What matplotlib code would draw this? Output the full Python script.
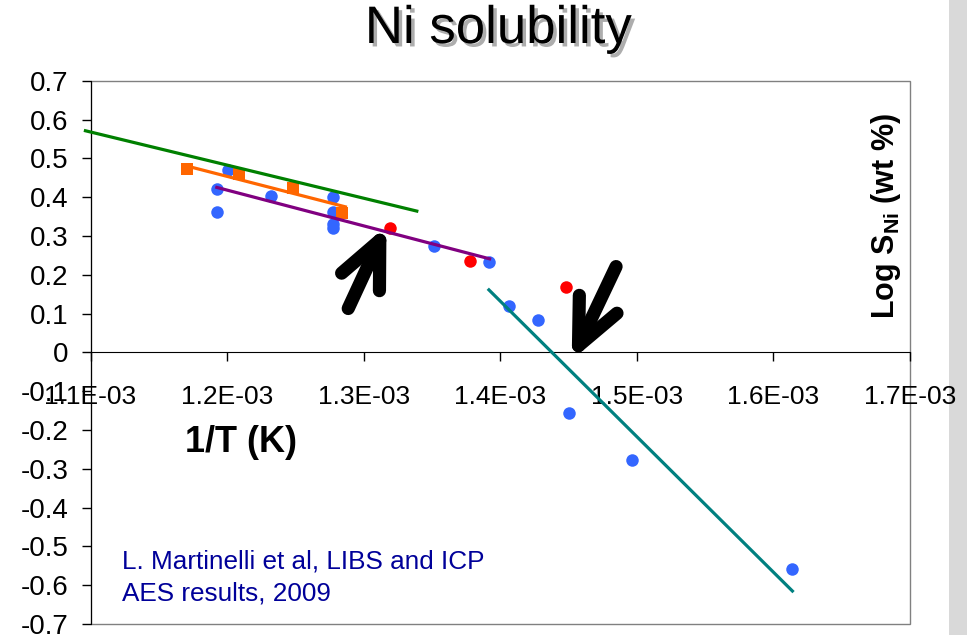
import numpy as np
import matplotlib
matplotlib.use('Agg')
import matplotlib.pyplot as plt
import matplotlib.patheffects as pe
from matplotlib.patches import Rectangle

plt.rcParams['font.family'] = ['Liberation Sans', 'DejaVu Sans']

# data (x in 1/K, y = log wt%)
blue_x = [1.2004e-3, 1.1925e-3, 1.1925e-3, 1.2320e-3, 1.2778e-3, 1.2778e-3, 1.2778e-3, 1.2778e-3,
          1.3515e-3, 1.3917e-3, 1.4063e-3, 1.4278e-3, 1.4500e-3, 1.4961e-3, 1.6139e-3]
blue_y = [0.470, 0.420, 0.362, 0.403, 0.401, 0.362, 0.332, 0.320,
          0.275, 0.234, 0.119, 0.083, -0.157, -0.278, -0.558]
red_x = [1.3195e-3, 1.3780e-3, 1.4479e-3]
red_y = [0.320, 0.235, 0.169]
orange_x = [1.1707e-3, 1.2084e-3, 1.2486e-3, 1.2840e-3]
orange_y = [0.472, 0.460, 0.424, 0.360]

# trend lines (end points)
green_line_x = [1.0963e-3, 1.3389e-3]
green_line_y = [0.571, 0.364]
orange_line_x = [1.1707e-3, 1.2866e-3]
orange_line_y = [0.480, 0.375]
purple_line_x = [1.1925e-3, 1.3922e-3]
purple_line_y = [0.425, 0.241]
teal_line_x = [1.3917e-3, 1.6139e-3]
teal_line_y = [0.161, -0.615]

# arrows: (tail, tip)
arrows = [((1.2887e-3, 0.113), (1.3167e-3, 0.326)),
          ((1.4848e-3, 0.221), (1.4523e-3, -0.020))]

x_ticks = [1.1e-3, 1.2e-3, 1.3e-3, 1.4e-3, 1.5e-3, 1.6e-3, 1.7e-3]
x_tick_labels = ['1.1E-03', '1.2E-03', '1.3E-03', '1.4E-03', '1.5E-03', '1.6E-03', '1.7E-03']
y_ticks = [-0.7, -0.6, -0.5, -0.4, -0.3, -0.2, -0.1, 0, 0.1, 0.2, 0.3, 0.4, 0.5, 0.6, 0.7]
y_tick_labels = ['-0.7', '-0.6', '-0.5', '-0.4', '-0.3', '-0.2', '-0.1', '0',
                 '0.1', '0.2', '0.3', '0.4', '0.5', '0.6', '0.7']

W, H = 967, 635
fig = plt.figure(figsize=(W / 100, H / 100), dpi=100)
ax = fig.add_axes([90.5 / W, 1 - 624 / H, (910 - 90.5) / W, (624 - 80.7) / H])

# x axis crosses at y = 0 (set before ticks, it resets them)
ax.spines['bottom'].set_position(('data', 0))
ax.spines['top'].set_visible(False)
ax.spines['right'].set_visible(False)
ax.spines['left'].set_color('black')
ax.spines['bottom'].set_color('black')
ax.add_patch(Rectangle((0, 0), 1, 1, transform=ax.transAxes, fill=False,
                       edgecolor='#808080', lw=1, clip_on=False, zorder=1))

ax.plot(blue_x, blue_y, 'o', color='#3366ff', ms=9, mew=0, zorder=3)
ax.plot(red_x, red_y, 'o', color='#ff0000', ms=9, mew=0, zorder=3)
ax.plot(orange_x, orange_y, 's', color='#ff6600', ms=9, mew=0, zorder=3)

ax.plot(green_line_x, green_line_y, color='#008000', lw=2.3, clip_on=False, zorder=4)
ax.plot(orange_line_x, orange_line_y, color='#ff6600', lw=2.3, zorder=4)
ax.plot(purple_line_x, purple_line_y, color='#800080', lw=2.3, zorder=4)
ax.plot(teal_line_x, teal_line_y, color='#008080', lw=2.3, zorder=4)

for tail, tip in arrows:
    ax.annotate('', xy=tip, xytext=tail,
                arrowprops=dict(arrowstyle='->,head_length=3.3,head_width=1.5',
                                mutation_scale=10, lw=9.5, color='black',
                                shrinkA=0, shrinkB=0, capstyle='round', joinstyle='round'),
                zorder=5)

ax.set_xlim(1.1e-3, 1.7e-3)
ax.set_ylim(-0.7, 0.7)
ax.set_xticks(x_ticks)
ax.set_xticklabels(x_tick_labels)
ax.set_yticks(y_ticks)
ax.set_yticklabels(y_tick_labels)
ax.tick_params(axis='x', length=6.5, width=1, pad=17, direction='out', labelsize=19)
ax.tick_params(axis='y', length=6.5, width=1, pad=9.5, direction='out', labelsize=20)

# labels
title = fig.text(498 / W, 1 - 43 / H, 'Ni solubility', fontsize=38, ha='center', va='baseline')
title.set_path_effects([pe.SimplePatchShadow(offset=(2.5, -2.5), shadow_rgbFace='#777777', alpha=0.6),
                        pe.Normal()])
fig.text(241 / W, 1 - 452 / H, '1/T (K)', fontsize=26, fontweight='bold', ha='center', va='baseline')
fig.text(886 / W, 1 - 216 / H, r'Log S$_{\mathregular{Ni}}$ (wt %)', fontsize=22, fontweight='bold',
         rotation=90, ha='center', va='center')
fig.text(122 / W, 1 - 568 / H, 'L. Martinelli et al, LIBS and ICP', fontsize=18.8,
         color='#000099', va='baseline')
fig.text(122 / W, 1 - 600 / H, 'AES results, 2009', fontsize=18.8, color='#000099', va='baseline')

# grey strip at right edge
fig.add_artist(Rectangle((949 / W, 0), (W - 949) / W, 1, transform=fig.transFigure,
                         facecolor='#d9d9d9', edgecolor='none', zorder=0))

fig.savefig('out.png', dpi=100)
